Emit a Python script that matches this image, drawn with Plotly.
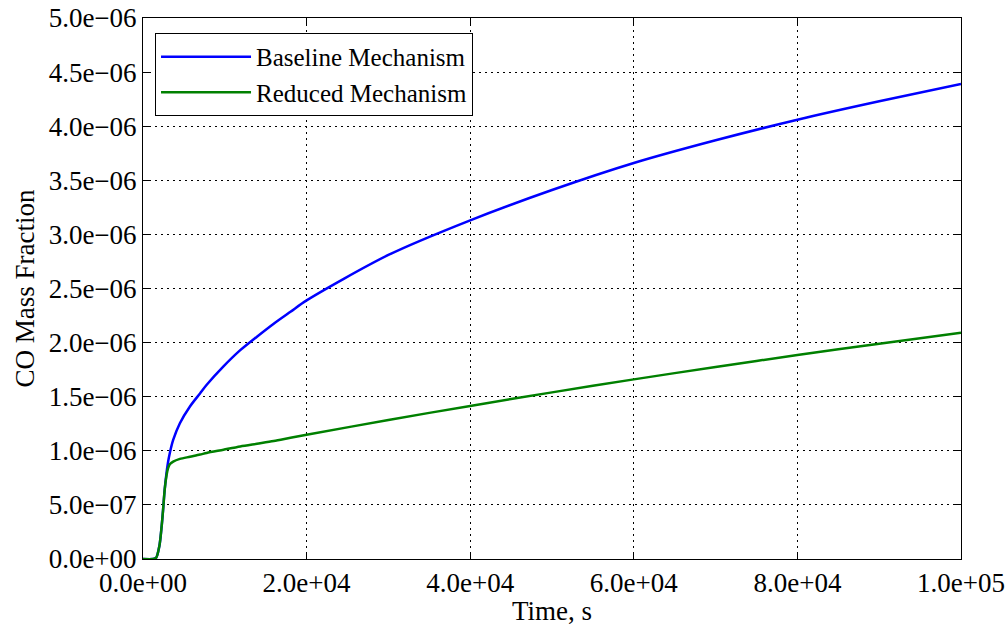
import plotly.graph_objects as go

time_s = [0, 1200, 1600, 2000, 2250, 2450, 2650, 2850, 3050, 3280, 3690, 4510, 5740, 6970, 7790,
          9840, 11890, 13930, 15980, 18030, 20000, 30000, 40000, 50000, 60000, 70000, 80000,
          90000, 100000]
baseline = [0, 0, 0.01e-6, 0.12e-6, 0.28e-6, 0.45e-6, 0.64e-6, 0.78e-6, 0.89e-6, 0.98e-6,
            1.10e-6, 1.255e-6, 1.41e-6, 1.53e-6, 1.61e-6, 1.78e-6, 1.93e-6, 2.055e-6, 2.175e-6,
            2.285e-6, 2.39e-6, 2.81e-6, 3.13e-6, 3.41e-6, 3.66e-6, 3.87e-6, 4.06e-6, 4.23e-6,
            4.39e-6]
reduced = [0, 0, 0.01e-6, 0.12e-6, 0.28e-6, 0.45e-6, 0.64e-6, 0.76e-6, 0.835e-6, 0.875e-6,
           0.90e-6, 0.925e-6, 0.945e-6, 0.965e-6, 0.98e-6, 1.01e-6, 1.04e-6, 1.065e-6, 1.09e-6,
           1.12e-6, 1.148e-6, 1.285e-6, 1.415e-6, 1.54e-6, 1.66e-6, 1.775e-6, 1.885e-6, 1.99e-6,
           2.09e-6]

x_ticks = [0, 20000, 40000, 60000, 80000, 100000]
x_labels = ["0.0e+00", "2.0e+04", "4.0e+04", "6.0e+04", "8.0e+04", "1.0e+05"]
y_ticks = [i * 0.5e-6 for i in range(11)]
y_labels = ["0.0e+00", "5.0e\u221207", "1.0e\u221206", "1.5e\u221206", "2.0e\u221206", "2.5e\u221206",
            "3.0e\u221206", "3.5e\u221206", "4.0e\u221206", "4.5e\u221206", "5.0e\u221206"]

fig = go.Figure()
fig.add_trace(go.Scatter(x=time_s, y=baseline, mode="lines", name="Baseline Mechanism",
                         line=dict(color="#0000ff", width=2.5, shape="spline", smoothing=0.8)))
fig.add_trace(go.Scatter(x=time_s, y=reduced, mode="lines", name="Reduced Mechanism",
                         line=dict(color="#008000", width=2.5, shape="spline", smoothing=0.8)))

font = dict(family="Liberation Serif", size=27, color="black")
axis_common = dict(showline=True, linecolor="black", linewidth=1, mirror="ticks",
                   ticks="inside", ticklen=7, tickcolor="black",
                   showgrid=True, gridcolor="black", gridwidth=1, griddash="2px,4px",
                   zeroline=False, tickfont=font, automargin=False)
fig.update_xaxes(range=[0, 100000], tickvals=x_ticks, ticktext=x_labels,
                 title=dict(text="Time, s", font=font, standoff=2), **axis_common)
fig.update_yaxes(range=[0, 5e-6], tickvals=y_ticks, ticktext=y_labels,
                 title=dict(text="CO Mass Fraction", font=font, standoff=6), **axis_common)

fig.update_layout(
    width=1005, height=626,
    margin=dict(l=143, r=44, t=18, b=67, autoexpand=False),
    plot_bgcolor="white", paper_bgcolor="white",
    font=font,
    legend=dict(x=0.0147, y=0.9723, xanchor="left", yanchor="top",
                bgcolor="white", bordercolor="black", borderwidth=1,
                font=dict(family="Liberation Serif", size=25, color="black"),
                tracegroupgap=0, itemwidth=90),
    showlegend=True,
)

fig.write_html("out.html")
